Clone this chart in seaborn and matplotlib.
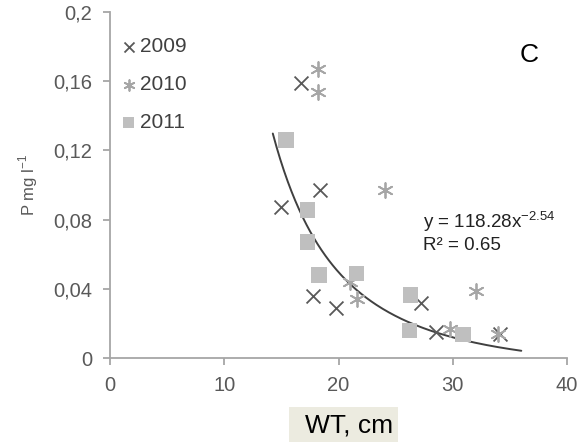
import numpy as np
import pandas as pd
import matplotlib
matplotlib.use("Agg")
import matplotlib.pyplot as plt
import seaborn as sns
from matplotlib.ticker import FixedLocator
from matplotlib.patches import Rectangle

# ---- data ----
wt_2009 = [16.7, 18.4, 15.0, 17.8, 19.8, 27.2, 28.5, 34.1]
p_2009 = [0.159, 0.097, 0.087, 0.036, 0.029, 0.032, 0.015, 0.014]

wt_2010 = [18.2, 18.2, 24.1, 21.0, 21.6, 32.0, 29.8, 34.0]
p_2010 = [0.167, 0.154, 0.097, 0.044, 0.034, 0.039, 0.0165, 0.014]

wt_2011 = [15.4, 17.3, 17.3, 18.3, 21.6, 26.3, 26.2, 30.9]
p_2011 = [0.126, 0.0855, 0.067, 0.048, 0.049, 0.0364, 0.016, 0.0136]

years = ["2009", "2010", "2011"]
x_ticks = [0, 10, 20, 30, 40]
y_ticks = [0, 0.04, 0.08, 0.12, 0.16, 0.2]
y_tick_labels = ["0", "0,04", "0,08", "0,12", "0,16", "0,2"]

trend_a, trend_b, trend_shift = 118.28, -2.54, -0.009
trend_range = (14.25, 36.0)
eq_text = "y = 118.28x$^{\\mathregular{-2.54}}$"
r2_text = "R² = 0.65"

df = pd.concat([
    pd.DataFrame({"WT": wt_2009, "P": p_2009, "year": "2009"}),
    pd.DataFrame({"WT": wt_2010, "P": p_2010, "year": "2010"}),
    pd.DataFrame({"WT": wt_2011, "P": p_2011, "year": "2011"}),
])

sns.set_theme(style="white")
plt.rcParams["font.family"] = ["Liberation Sans", "DejaVu Sans"]

W, H = 583, 442
fig = plt.figure(figsize=(W / 100, H / 100), dpi=100)
ax = fig.add_axes([110 / W, 1 - 358 / H, (567 - 110) / W, (358 - 12) / H])

styles = {
    "2009": dict(marker="x", color="#595959", s=100, linewidth=1.3),
    "2010": dict(marker=(6, 2, 0), color="#a6a6a6", s=115, linewidth=1.3),
    "2011": dict(marker="s", color="#bfbfbf", s=120, linewidth=0),
}
for yr in years:
    st = styles[yr]
    sub = df[df["year"] == yr]
    sns.scatterplot(data=sub, x="WT", y="P", ax=ax, marker=st["marker"],
                    color=st["color"], s=st["s"], linewidth=st["linewidth"],
                    edgecolor=st["color"] if yr != "2011" else "none",
                    label=yr, zorder=3)

xs = np.linspace(trend_range[0], trend_range[1], 200)
ys = trend_a * xs ** trend_b + trend_shift
sns.lineplot(x=xs, y=ys, ax=ax, color="#404040", linewidth=1.4, zorder=2, legend=False)

ax.set_xlim(0, 40)
ax.set_ylim(0, 0.2)
ax.xaxis.set_major_locator(FixedLocator(x_ticks))
ax.yaxis.set_major_locator(FixedLocator(y_ticks))
ax.set_yticklabels(y_tick_labels)
ax.set_xticklabels([str(t) for t in x_ticks])

for side in ["top", "right"]:
    ax.spines[side].set_visible(False)
for side in ["left", "bottom"]:
    ax.spines[side].set_color("#a6a6a6")
    ax.spines[side].set_linewidth(1.3)
ax.tick_params(axis="both", which="major", direction="out", length=5, width=1.3,
               color="#a6a6a6", labelcolor="#595959", labelsize=14.5,
               left=True, bottom=True)
ax.tick_params(axis="y", pad=8)
ax.tick_params(axis="x", pad=8)

ax.set_xlabel("")
ax.set_ylabel("P mg l$^{\\mathregular{-1}}$", fontsize=12, color="#595959", labelpad=9)

# x-axis title with shaded box
fig.patches.append(Rectangle((289 / W, 0), (398 - 289) / W, (442 - 407) / H,
                             transform=fig.transFigure, facecolor="#ecebe0",
                             edgecolor="none", zorder=0))
fig.text(349 / W, 1 - 426 / H, "WT, cm", fontsize=19, color="black",
         ha="center", va="center")

fig.text(529 / W, 1 - 55 / H, "C", fontsize=19, color="black", ha="center", va="center")
fig.text(423 / W, 1 - 222 / H, eq_text, fontsize=13.5, color="#222222", ha="left", va="center")
fig.text(423 / W, 1 - 245 / H, r2_text, fontsize=13.5, color="#222222", ha="left", va="center")

leg = ax.legend(loc="upper left", bbox_to_anchor=(0.0, 0.951), frameon=False,
                fontsize=15, handletextpad=0.05, handlelength=1.0, markerscale=0.72,
                labelspacing=0.9, borderaxespad=0.2, borderpad=0.2)
for t in leg.get_texts():
    t.set_color("#404040")

fig.savefig("out.png", dpi=100)
